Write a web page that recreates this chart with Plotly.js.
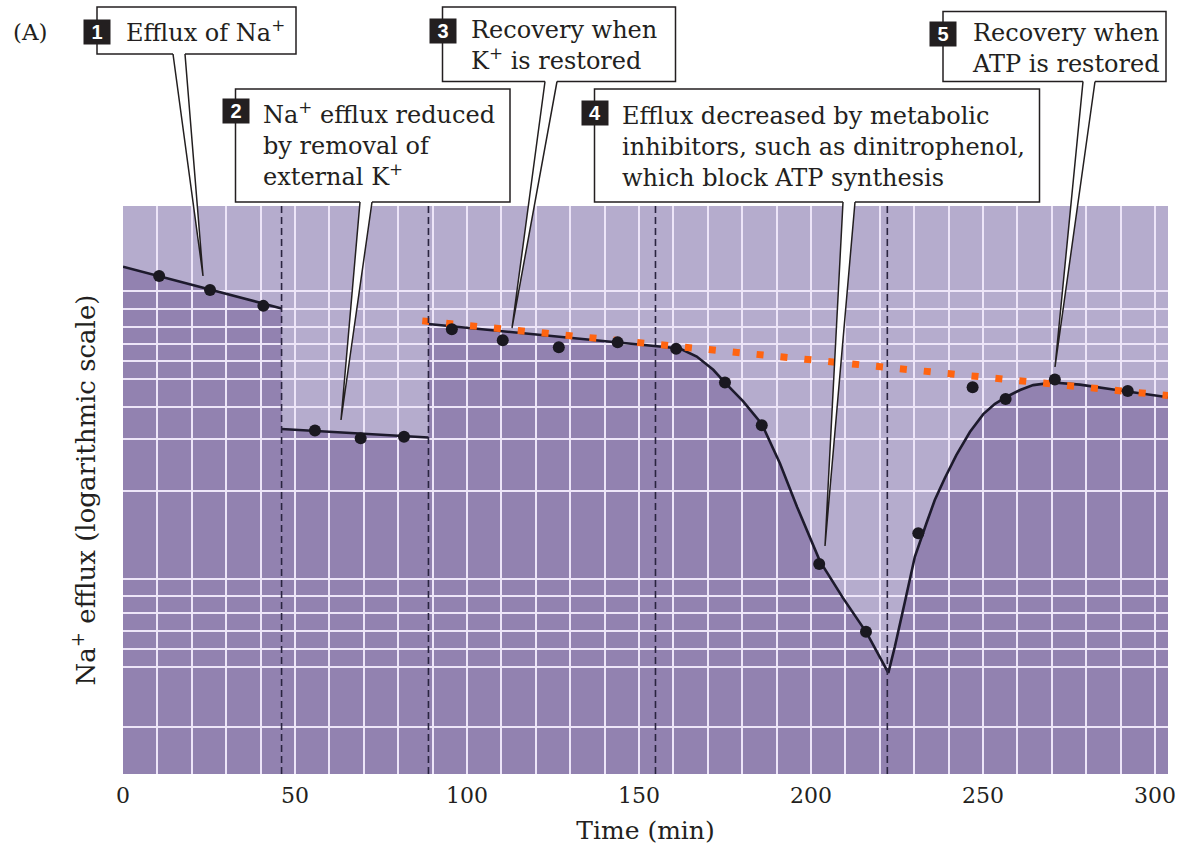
<!DOCTYPE html>
<html><head><meta charset="utf-8">
<script src="https://cdn.plot.ly/plotly-3.0.1.min.js"></script>
<style>html,body{margin:0;padding:0;background:#fff;}#chart{width:1178px;height:845px;}</style>
</head><body><div id="chart"></div>
<script>
// ---------- data ----------
const phase1Time = [0, 46.1];
const phase1Fit = [61.1, 43.6];
const phase1PointTime = [10.5, 25.3, 40.8];
const phase1PointEfflux = [56.7, 50.6, 44.5];

const phase2Time = [46.1, 88.8];
const phase2Fit = [16.4, 15.3];
const phase2PointTime = [55.8, 69.1, 81.7];
const phase2PointEfflux = [16.2, 15.2, 15.4];

const phase3Time = [88.8, 154.9, 161.9, 166.8, 171.6, 175.0, 180.3, 185.7, 191.0, 196.0, 202.6, 209.3, 216.2, 222.5, 224.4, 227.3, 230.2, 233.6, 236.0, 238.9, 242.3, 246.2, 250.1, 253.5, 256.9, 260.8, 264.6, 270.4, 278.2, 287.9, 295.6, 303.8];
const phase3Fit = [38.4, 32.2, 31.5, 29.5, 26.5, 23.9, 20.5, 17.1, 12.4, 8.7, 5.62, 4.17, 3.14, 2.27, 2.81, 4.03, 5.82, 7.65, 9.22, 11.0, 13.3, 16.0, 18.5, 20.1, 21.3, 22.5, 23.4, 23.9, 23.5, 22.6, 21.9, 21.2];
const phase3PointTime = [95.6, 110.4, 126.7, 143.8, 160.8, 175.0, 185.7, 202.4, 216.0, 231.2, 247.0, 256.6, 270.9, 292.1];
const phase3PointEfflux = [36.8, 33.7, 31.8, 33.1, 31.4, 23.9, 16.9, 5.49, 3.17, 7.04, 23.0, 20.9, 24.5, 22.3];

const expectedTime = [87.0, 303.8];
const expectedEfflux = [39.4, 21.5];

const phaseBoundaries = [46.1, 88.8, 154.8, 222.2];
const yGridVals = [50.2, 43.3, 37.5, 32.7, 28.4, 24.6, 19.6, 15.1, 9.92, 4.86, 4.24, 3.69, 3.19, 2.75, 2.38, 1.46];

const calloutNumbers = ['1', '2', '3', '4', '5'];
const calloutTexts = [
  'Efflux of Na<sup>+</sup>',
  'Na<sup>+</sup> efflux reduced<br>by removal of<br>external K<sup>+</sup>',
  'Recovery when<br>K<sup>+</sup> is restored',
  'Efflux decreased by metabolic<br>inhibitors, such as dinitrophenol,<br>which block ATP synthesis',
  'Recovery when<br>ATP is restored'
];
const xTitle = 'Time (min)';
const yTitle = 'Na<sup>+</sup> efflux (logarithmic scale)';
const panelLabel = '(A)';

// ---------- styling / layout (pixels of the 1178x845 page) ----------
const LIGHT = '#b5accd', DARK = '#9282b0', GRID = '#ede5f8';
const INK = '#231f20', LINE = '#1d1a2c', ORANGE = '#ff6410';
const SERIF = 'DejaVu Serif';
const PL = 123, PR = 1168, PT = 206, PB = 774;
const px = x => (x - PL) / (PR - PL);
const py = y => (PB - y) / (PB - PT);

// callout geometry: box [x0,y0,x1,y1], text anchor, number centre y, tail [xLeft, xRight, tipX, tipY]
const calloutGeom = [
  {box:[97,7,296,54],        tx:124, ty:31,  ny:32,  tail:[173,185,203,276]},
  {box:[235.5,89,510,202],   tx:261, ty:144, ny:111, tail:[360,372,341,420]},
  {box:[442.5,7,675.5,81.5], tx:469, ty:45,  ny:31,  tail:[545,557,512,328]},
  {box:[594.5,89,1039.5,202],tx:620, ty:147, ny:113, tail:[843,855,825,546]},
  {box:[943,11.5,1166,81.5], tx:970, ty:48,  ny:34,  tail:[1083,1095,1055,367]}
];

const fillTrace = (x, y) => ({x, y, xaxis:'x', yaxis:'y', type:'scatter', mode:'lines',
  line:{width:0, color:DARK}, fill:'tozeroy', fillcolor:DARK, hoverinfo:'skip'});
const fitTrace = (x, y) => ({x, y, xaxis:'x2', yaxis:'y2', type:'scatter', mode:'lines',
  line:{width:2.6, color:LINE}, hoverinfo:'skip'});
const pointTrace = (x, y) => ({x, y, xaxis:'x2', yaxis:'y2', type:'scatter', mode:'markers',
  marker:{size:12, color:'#1a1820'}, hoverinfo:'skip'});

const traces = [
  fillTrace(phase1Time, phase1Fit),
  fillTrace(phase2Time, phase2Fit),
  fillTrace(phase3Time, phase3Fit),
  fitTrace(phase1Time, phase1Fit),
  fitTrace(phase2Time, phase2Fit),
  fitTrace(phase3Time, phase3Fit),
  {x:expectedTime, y:expectedEfflux, xaxis:'x2', yaxis:'y2', type:'scatter', mode:'lines',
   line:{width:7, color:ORANGE, dash:'7px,17px'}, hoverinfo:'skip'},
  pointTrace(phase1PointTime, phase1PointEfflux),
  pointTrace(phase2PointTime, phase2PointEfflux),
  pointTrace(phase3PointTime, phase3PointEfflux)
];

const shapes = [
  {type:'rect', xref:'paper', yref:'paper', x0:0, x1:1, y0:0, y1:1, layer:'below',
   fillcolor:LIGHT, line:{width:0}}
];
phaseBoundaries.forEach(t => shapes.push({type:'line', xref:'x2', yref:'paper', x0:t, x1:t, y0:0, y1:1,
  layer:'above', line:{color:'#2a2440', width:1.6, dash:'7px,4px'}}));

const annotations = [
  {text:panelLabel, xref:'paper', yref:'paper', x:px(30), y:py(32), xanchor:'center', yanchor:'middle',
   showarrow:false, font:{family:SERIF, size:23, color:INK}}
];

calloutGeom.forEach((g, i) => {
  const [bx0, by0, bx1, by1] = g.box;
  shapes.push({type:'rect', xref:'paper', yref:'paper', x0:px(bx0), x1:px(bx1), y0:py(by1), y1:py(by0),
    layer:'above', fillcolor:'#ffffff', line:{color:INK, width:1.5}});
  const [xl, xr, tx, ty] = g.tail;
  shapes.push({type:'path', xref:'paper', yref:'paper', layer:'above', fillcolor:'#ffffff', line:{width:0},
    path:`M ${px(xl)},${py(by1-3)} L ${px(xl)},${py(by1)} L ${px(tx)},${py(ty)} L ${px(xr)},${py(by1)} L ${px(xr)},${py(by1-3)} Z`});
  shapes.push({type:'path', xref:'paper', yref:'paper', layer:'above', fillcolor:'rgba(0,0,0,0)',
    line:{color:INK, width:1.5},
    path:`M ${px(xl)},${py(by1)} L ${px(tx)},${py(ty)} L ${px(xr)},${py(by1)}`});
  annotations.push({text:calloutTexts[i], xref:'paper', yref:'paper', x:px(g.tx), y:py(g.ty),
    xanchor:'left', yanchor:'middle', align:'left', showarrow:false,
    font:{family:SERIF, size:24, color:INK}});
  annotations.push({text:calloutNumbers[i], xref:'paper', yref:'paper', x:px(bx0), y:py(g.ny),
    xanchor:'center', yanchor:'middle', showarrow:false, width:26, height:24, borderpad:0,
    bgcolor:INK, font:{family:'Liberation Sans', size:20, color:'#ffffff', weight:'bold'}});
});

const layout = {
  width:1178, height:845,
  margin:{l:PL, r:1178-PR, t:PT, b:845-PB},
  paper_bgcolor:'#ffffff', plot_bgcolor:'rgba(0,0,0,0)',
  showlegend:false,
  xaxis:{domain:[0,1], anchor:'y', range:[0,303.8], visible:false, fixedrange:true},
  yaxis:{domain:[0,1], anchor:'x', type:'log', range:[0,2], visible:false, fixedrange:true},
  xaxis2:{domain:[0,1], anchor:'y2', range:[0,303.8], tickmode:'linear', tick0:0, dtick:50,
    ticks:'', showline:false, zeroline:false, showgrid:true, gridcolor:GRID, gridwidth:2,
    minor:{tick0:0, dtick:10, showgrid:true, gridcolor:GRID, gridwidth:2, ticks:''},
    ticklabelstandoff:6,
    tickfont:{family:SERIF, size:22, color:INK},
    title:{text:xTitle, font:{family:SERIF, size:25, color:INK}, standoff:14}},
  yaxis2:{domain:[0,1], anchor:'x2', type:'log', range:[0,2], tickmode:'array', tickvals:yGridVals,
    showticklabels:false, ticks:'', showline:false, zeroline:false, showgrid:true,
    gridcolor:GRID, gridwidth:2,
    title:{text:yTitle, font:{family:SERIF, size:26, color:INK}, standoff:18}},
  shapes, annotations
};

Plotly.newPlot('chart', traces, layout, {displayModeBar:false, staticPlot:true});
</script>
</body></html>
